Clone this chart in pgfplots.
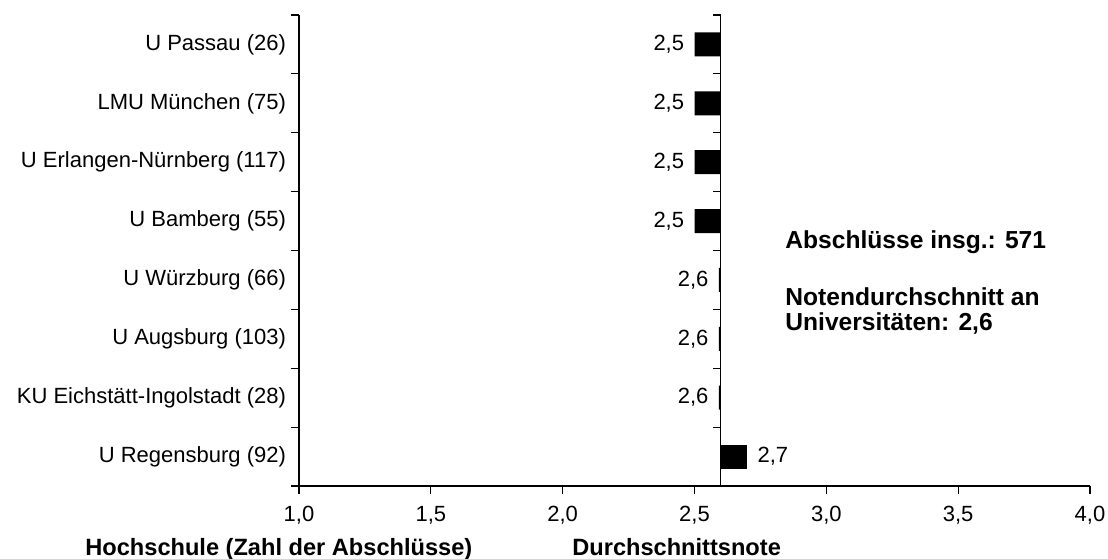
\documentclass[border=0pt]{standalone}
\usepackage{fontspec}
\setmainfont{Liberation Sans}
\usepackage{pgfplots}
\usepackage{pgfplotstable}
\pgfplotsset{compat=1.18}
% values below/at the average (label to the left)
\pgfplotstableread{
i v
7 2.50
6 2.50
5 2.50
4 2.50
3 2.592
2 2.592
1 2.592
}\below
% values above the average (label to the right)
\pgfplotstableread{
i v
0 2.70
}\above
\newcommand{\reg}{\fontsize{11}{13}\selectfont}
\newcommand{\bld}{\fontsize{11.8}{14}\selectfont\bfseries}
\newcommand{\bldb}{\fontsize{12.3}{14}\selectfont\bfseries}
\begin{document}
\begin{tikzpicture}
\useasboundingbox (-149.5pt,-36pt) rectangle (404.5pt,243pt);
\begin{axis}[
  at={(0,0)}, anchor=south west,
  scale only axis, width=395.5pt, height=235.5pt,
  xmin=-1.6, xmax=1.4, ymin=-0.5, ymax=7.5,
  axis x line*=bottom, axis y line*=left,
  axis line style={line width=0.6pt},
  xtick={-1.6,-1.1,-0.6,-0.1,0.4,0.9,1.4},
  xticklabels={{1,0},{1,5},{2,0},{2,5},{3,0},{3,5},{4,0}},
  ytick={0,1,2,3,4,5,6,7},
  yticklabels={{U Regensburg (92)},{KU Eichstätt-Ingolstadt (28)},{U Augsburg (103)},{U Würzburg (66)},{U Bamberg (55)},{U Erlangen-Nürnberg (117)},{LMU München (75)},{U Passau (26)}},
  minor ytick={-0.5,0.5,1.5,2.5,3.5,4.5,5.5,6.5,7.5},
  major y tick style={draw=none},
  tick align=outside,
  major tick length=4pt, minor tick length=4pt,
  tick style={line width=0.6pt, black},
  ticklabel style={font=\reg},
  xticklabel style={yshift=-2.5pt},
  yticklabel style={xshift=1pt},
  /pgf/number format/assume math mode=true,
  clip=false,
]
\addplot[xbar, bar width=12pt, bar shift=0pt, fill=black, draw=none,
  point meta=explicit,
  nodes near coords={\pgfmathprintnumber[fixed,fixed zerofill,precision=1,use comma,assume math mode=true]{\pgfplotspointmeta}},
  nodes near coords align={left},
  every node near coord/.append style={font=\reg, inner xsep=5pt, inner ysep=0pt, black}]
  table[x expr=\thisrow{v}-2.6, y=i, meta=v] {\below};
\addplot[xbar, bar width=12pt, bar shift=0pt, fill=black, draw=none,
  point meta=explicit,
  nodes near coords={\pgfmathprintnumber[fixed,fixed zerofill,precision=1,use comma,assume math mode=true]{\pgfplotspointmeta}},
  nodes near coords align={right},
  every node near coord/.append style={font=\reg, inner xsep=5pt, inner ysep=0pt, black}]
  table[x expr=\thisrow{v}-2.6, y=i, meta=v] {\above};
\draw[line width=0.6pt] (axis cs:0,-0.5) -- (axis cs:0,7.5);
\pgfplotsinvokeforeach{-0.5,0.5,1.5,2.5,3.5,4.5,5.5,6.5,7.5}{
  \draw[line width=0.6pt] (axis cs:0,#1) -- ++(-4pt,0pt);
}
\end{axis}
\node[anchor=base west, font=\bld, inner sep=0pt] at (-107pt,-34.5pt) {Hochschule (Zahl der Abschlüsse)};
\node[anchor=base west, font=\bld, inner sep=0pt] at (136.5pt,-34.5pt) {Durchschnittsnote};
\node[anchor=west, font=\bldb, inner sep=0pt] at (243pt,122pt) {Abschlüsse insg.: 571};
\node[anchor=west, font=\bldb, inner sep=0pt] at (243pt,94.5pt) {Notendurchschnitt an};
\node[anchor=west, font=\bldb, inner sep=0pt] at (243pt,81.5pt) {Universitäten: 2,6};
\end{tikzpicture}
\end{document}
